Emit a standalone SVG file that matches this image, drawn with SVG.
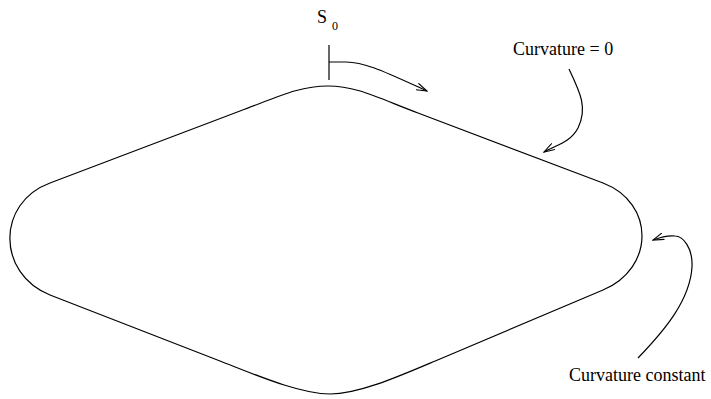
<svg xmlns="http://www.w3.org/2000/svg" width="711" height="399" viewBox="0 0 711 399">
<style>
.ln{fill:none;stroke:#000;stroke-width:1.2}
.t{font-family:"Liberation Serif","Times New Roman",serif;fill:#000}
</style>
<defs>
<marker id="ah" viewBox="0 0 12 8" refX="11" refY="4" markerWidth="12" markerHeight="8" markerUnits="userSpaceOnUse" orient="auto">
<path d="M0,0.5 L11,4 L0,7.5" fill="none" stroke="#000" stroke-width="1.1"/>
</marker>
</defs>
<g id="shape">
<path class="ln" d="M240,111 C280,96 300,86 328,86 C356,86 376,97 418,113 L603,183 C655,203 655,268 603,290 L440,359 C402,375 360,394 330,394 C300,394 256,375 220,361 L50,295 C-3,274 -4,203 50,183 Z"/>
</g>
<g id="s0">
<text class="t" x="317" y="23" font-size="18">S</text>
<text class="t" x="332" y="30" font-size="12">0</text>
</g>
<g id="label-zero">
<text class="t" x="513" y="55" font-size="18">Curvature = 0</text>
</g>
<g id="label-const">
<text class="t" x="569" y="381" font-size="18">Curvature constant</text>
</g>
<g id="connectors">
<path class="ln" d="M329,45 L329,80"/>
<path class="ln" marker-end="url(#ah)" d="M329,62 L346,62 C365,62 385,72 427,91"/>
<path class="ln" marker-end="url(#ah)" d="M569,69 C580,92 588,108 578,128 C570,143 556,145 544,152"/>
<path class="ln" marker-end="url(#ah)" d="M638,358 C665,330 690,300 692,267 C693,248 683,236 675,236 C668,235 661,237 653,240"/>
</g>
</svg>
